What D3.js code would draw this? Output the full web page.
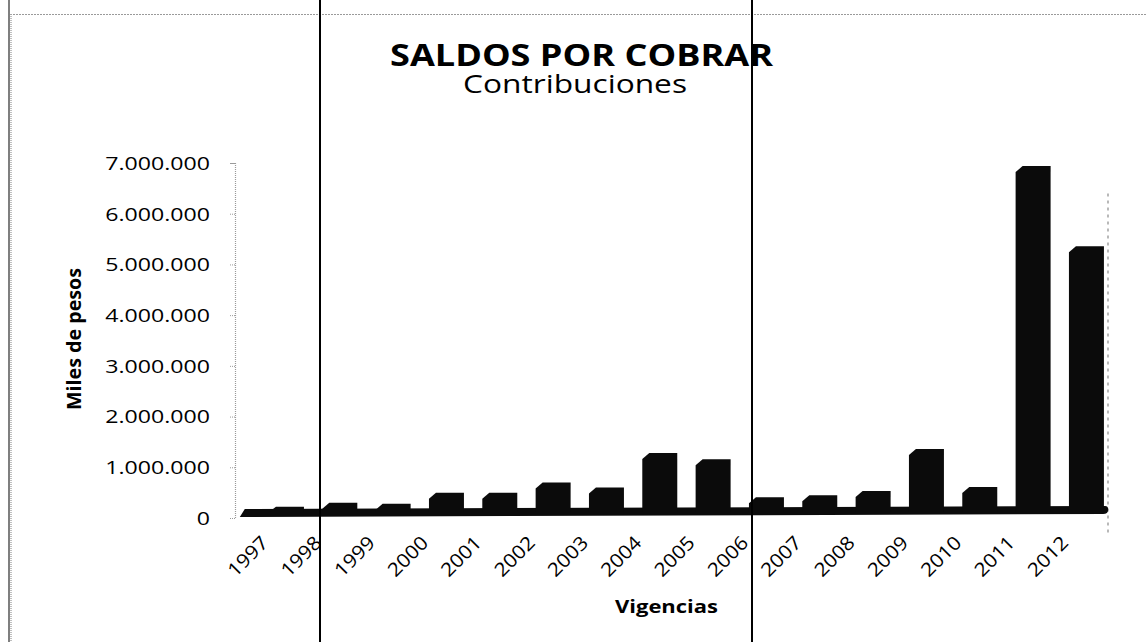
<!DOCTYPE html>
<html>
<head>
<meta charset="utf-8">
<script src="https://cdn.jsdelivr.net/npm/d3@7"></script>
<style>
  html, body { margin: 0; padding: 0; background: #fff; }
  svg { display: block; }
</style>
</head>
<body>
<script>
// ---- data ----
const years = ["1997","1998","1999","2000","2001","2002","2003","2004",
               "2005","2006","2007","2008","2009","2010","2011","2012"];
const saldos = [220000, 300000, 280000, 500000, 500000, 700000, 600000, 1280000,
                1160000, 410000, 450000, 530000, 1360000, 610000, 6940000, 5360000];
const yTickValues = [0, 1000000, 2000000, 3000000, 4000000, 5000000, 6000000, 7000000];
const titleText = "SALDOS POR COBRAR";
const subtitleText = "Contribuciones";
const yTitle = "Miles de pesos";
const xTitle = "Vigencias";

// ---- layout ----
const W = 1146, H = 642;
const svg = d3.select("body").append("svg").attr("width", W).attr("height", H);
const FONT = "'Open Sans', 'Liberation Sans', sans-serif";

const x = d3.scaleBand().domain(years).range([259.8, 1113.1]).paddingInner(0.344).paddingOuter(0.172);
const y = d3.scaleLinear().domain([0, 7000000]).range([518, 163]);
const fmt = d3.formatLocale({decimal: ",", thousands: ".", grouping: [3], currency: ["$", ""]}).format(",.0f");

// page frame (scan borders)
svg.append("line").attr("x1", 10).attr("x2", W).attr("y1", 14.5).attr("y2", 14.5)
  .attr("stroke", "#9a9a9a").attr("stroke-width", 1).attr("stroke-dasharray", "2,1");
svg.append("line").attr("x1", 9).attr("x2", 9).attr("y1", 0).attr("y2", H)
  .attr("stroke", "#555").attr("stroke-width", 1.5);
svg.append("line").attr("x1", 11).attr("x2", 11).attr("y1", 14).attr("y2", H)
  .attr("stroke", "#aaa").attr("stroke-width", 1.5).attr("stroke-dasharray", "1,1");

// right wall edge (dashed grey)
svg.append("line").attr("x1", 1108).attr("x2", 1108).attr("y1", y(6400000)).attr("y2", y(0) + 15)
  .attr("stroke", "#8a8a8a").attr("stroke-width", 1.2).attr("stroke-dasharray", "3,4");

// y axis
const yAxis = d3.axisLeft(y).tickValues(yTickValues).tickSize(5).tickFormat(fmt);
const gy = svg.append("g").attr("transform", "translate(235,0)").call(yAxis);
gy.select(".domain").attr("stroke", "#9a9a9a").attr("stroke-dasharray", "1,1").attr("stroke-width", 1.2);
gy.selectAll(".tick line").attr("stroke", "#9a9a9a").attr("stroke-dasharray", "1,1");
gy.selectAll(".tick text")
  .attr("x", 0).attr("dy", "0.36em")
  .attr("transform", "translate(-25,0) scale(1.3,1)")
  .style("font-family", FONT).style("font-size", "17.8px").attr("fill", "#000");

// floor (3D slab)
const xr = x.range();
const base = y(0);
const floorPath = d3.path();
floorPath.moveTo(xr[0] - 20, base - 1);
floorPath.lineTo(xr[0] - 15, base - 9);
floorPath.lineTo(xr[1] - 8, base - 12);
floorPath.quadraticCurveTo(xr[1] - 5, base - 12, xr[1] - 5, base - 9);
floorPath.lineTo(xr[1] - 5, base - 8);
floorPath.quadraticCurveTo(xr[1] - 5, base - 4, xr[1] - 10, base - 4);
floorPath.closePath();
svg.append("path").attr("d", floorPath.toString()).attr("fill", "#0b0b0b");

// bars (front face with bevelled top-left corner)
const bw = x.bandwidth();
svg.append("g").selectAll("path").data(years).join("path")
  .attr("d", (yr, i) => {
    const x0 = x(yr), x1 = x0 + bw, top = y(saldos[i]), b = base - 6;
    const p = d3.path();
    p.moveTo(x0, b);
    p.lineTo(x0, Math.min(top + 6, b));
    p.lineTo(x0 + 7, top);
    p.lineTo(x1, top);
    p.lineTo(x1, b);
    p.closePath();
    return p.toString();
  })
  .attr("fill", "#0b0b0b");

// x tick labels rotated -45
svg.append("g").selectAll("text").data(years).join("text")
  .attr("transform", d => `translate(${x(d) + bw / 2 - 17},544) rotate(-45)`)
  .attr("text-anchor", "end")
  .attr("textLength", 48).attr("lengthAdjust", "spacingAndGlyphs")
  .style("font-family", FONT).style("font-size", "19px")
  .text(d => d);

// titles
svg.append("text").attr("x", 581.5).attr("y", 66).attr("text-anchor", "middle")
  .attr("textLength", 383).attr("lengthAdjust", "spacingAndGlyphs")
  .style("font-family", FONT).style("font-weight", "bold").style("font-size", "30px")
  .text(titleText);
svg.append("text").attr("x", 575).attr("y", 93).attr("text-anchor", "middle")
  .attr("textLength", 224).attr("lengthAdjust", "spacingAndGlyphs")
  .style("font-family", FONT).style("font-size", "25px")
  .text(subtitleText);

// axis titles
svg.append("text").attr("transform", "translate(81,339) rotate(-90)").attr("text-anchor", "middle")
  .attr("textLength", 142).attr("lengthAdjust", "spacingAndGlyphs")
  .style("font-family", FONT).style("font-weight", "bold").style("font-size", "20px")
  .text(yTitle);
svg.append("text").attr("x", 666.5).attr("y", 613).attr("text-anchor", "middle")
  .attr("textLength", 103).attr("lengthAdjust", "spacingAndGlyphs")
  .style("font-family", FONT).style("font-weight", "bold").style("font-size", "17.5px")
  .text(xTitle);

// scan artefact vertical rules
[320, 752].forEach(xx => {
  svg.append("line").attr("x1", xx).attr("x2", xx).attr("y1", 0).attr("y2", H)
    .attr("stroke", "#000").attr("stroke-width", 2);
});
</script>
</body>
</html>
